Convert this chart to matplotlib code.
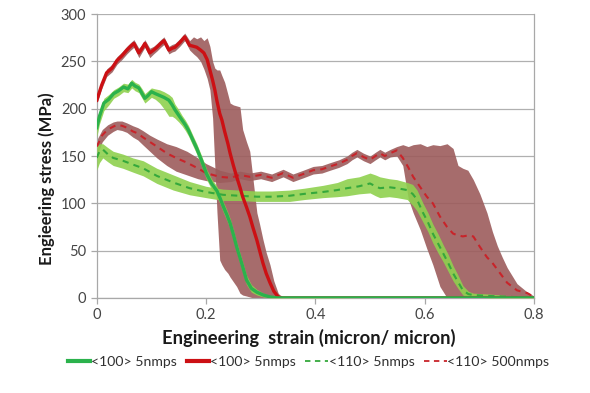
import matplotlib
matplotlib.use("Agg")
import matplotlib.pyplot as plt
from matplotlib.lines import Line2D

plt.rcParams['font.family'] = ['Lato', 'DejaVu Sans']

# <100> 5nmps (green solid): strain, stress, band low, band high
g100_x = [0, 0.005, 0.013, 0.022, 0.031, 0.04, 0.049, 0.057, 0.064, 0.07, 0.077, 0.083, 0.088, 0.094,
          0.1, 0.107, 0.115, 0.123, 0.132, 0.138, 0.143, 0.15, 0.156, 0.162, 0.168, 0.175, 0.183, 0.192,
          0.201, 0.21, 0.22, 0.226, 0.232, 0.238, 0.244, 0.25, 0.256, 0.265, 0.274, 0.283, 0.293, 0.305,
          0.317, 0.33, 0.5, 0.8]
g100_y = [180, 192, 206, 210, 216, 219, 223, 221, 227, 224, 222, 216, 211, 214,
          218, 216, 214, 212, 209, 204, 199, 193, 188, 183, 177, 168, 158, 145,
          131, 121, 113, 105, 96, 88, 79, 67, 54, 37, 19, 10, 6, 3,
          1, 0, 0, 0]
g100_lo = [170, 184, 198, 204, 211, 214, 218, 217, 222, 219, 217, 211, 206, 209,
           212, 210, 206, 200, 192, 192, 190, 186, 182, 177, 171, 162, 152, 139,
           125, 115, 107, 99, 90, 82, 73, 61, 48, 31, 14, 6, 3, 1,
           0, 0, 0, 0]
g100_hi = [190, 198, 211, 215, 220, 223, 227, 226, 231, 228, 226, 221, 216, 219,
           222, 221, 220, 218, 215, 212, 205, 199, 193, 188, 182, 173, 163, 150,
           136, 126, 118, 110, 101, 93, 84, 72, 59, 42, 24, 14, 9, 5,
           2, 1, 0, 0]

# <100> 5nmps (red solid)
r100_x = [0, 0.009, 0.018, 0.028, 0.037, 0.046, 0.055, 0.062, 0.068, 0.077, 0.083, 0.088, 0.097, 0.104,
          0.11, 0.117, 0.123, 0.132, 0.138, 0.143, 0.152, 0.161, 0.17, 0.177, 0.183, 0.19, 0.196, 0.202,
          0.207, 0.212, 0.216, 0.22, 0.225, 0.229, 0.234, 0.24, 0.244, 0.25, 0.256, 0.262, 0.267, 0.274,
          0.28, 0.286, 0.293, 0.298, 0.304, 0.31, 0.317, 0.324, 0.332, 0.34, 0.8]
r100_y = [209, 225, 238, 243, 251, 256, 262, 266, 269, 259, 264, 269, 259, 262,
          265, 269, 272, 262, 264, 265, 270, 276, 267, 266, 265, 262, 259, 252,
          241, 230, 220, 208, 195, 188, 176, 163, 153, 140, 128, 117, 107, 96,
          86, 74, 61, 50, 37, 26, 16, 7, 1, 0, 0]
r100_lo = [205, 221, 234, 239, 247, 252, 258, 262, 265, 254, 260, 265, 254, 258,
           261, 265, 268, 258, 260, 261, 266, 272, 262, 258, 255, 250, 242, 232,
           220, 190, 140, 90, 40, 35, 30, 26, 22, 17, 12, 5, 3, 2,
           1, 0, 0, 0, 0, 0, 0, 0, 0, 0, 0]
r100_hi = [213, 229, 242, 247, 255, 260, 266, 270, 273, 264, 268, 273, 264, 266,
           269, 273, 276, 266, 268, 269, 274, 280, 272, 276, 274, 276, 272, 275,
           266, 250, 243, 241, 241, 235, 228, 215, 206, 204, 203, 202, 178, 165,
           155, 125, 90, 78, 62, 48, 35, 18, 5, 0, 0]

# <110> 5nmps (green dashed)
g110_x = [0, 0.005, 0.011, 0.02, 0.03, 0.048, 0.066, 0.085, 0.11, 0.14, 0.17, 0.2, 0.231, 0.26,
          0.293, 0.32, 0.353, 0.38, 0.414, 0.44, 0.458, 0.48, 0.5, 0.51, 0.518, 0.535, 0.549, 0.568,
          0.578, 0.586, 0.597, 0.606, 0.615, 0.625, 0.634, 0.643, 0.652, 0.661, 0.67, 0.68, 0.689,
          0.72, 0.76, 0.8]
g110_y = [148, 155, 157, 152, 148, 145, 141, 137, 129, 122, 116, 112, 109, 108,
          107, 107, 108, 110, 112, 114, 116, 118, 121, 118, 116, 117, 116, 114,
          110, 104, 90, 80, 68, 57, 47, 37, 26, 17, 8, 4, 3,
          2, 1, 0]
g110_lo = [135, 143, 148, 144, 140, 137, 133, 129, 121, 114, 109, 106, 103, 103,
           102, 102, 102, 104, 106, 107, 108, 110, 111, 108, 106, 107, 106, 104,
           98, 92, 80, 70, 58, 47, 38, 28, 18, 10, 3, 1, 1,
           0, 0, 0]
g110_hi = [160, 163, 163, 159, 155, 152, 148, 145, 137, 130, 123, 118, 115, 114,
           113, 113, 114, 116, 119, 122, 126, 128, 132, 130, 128, 126, 125, 122,
           120, 114, 100, 90, 78, 67, 56, 46, 34, 24, 13, 7, 5,
           4, 2, 1]

# <110> 500nmps (red dashed)
r110_x = [0, 0.01, 0.02, 0.03, 0.037, 0.046, 0.055, 0.066, 0.075, 0.084, 0.097, 0.11, 0.128, 0.145,
          0.165, 0.185, 0.2, 0.225, 0.245, 0.262, 0.28, 0.3, 0.32, 0.341, 0.359, 0.378, 0.396, 0.412,
          0.427, 0.443, 0.458, 0.467, 0.476, 0.488, 0.5, 0.51, 0.518, 0.527, 0.537, 0.549, 0.56, 0.57,
          0.579, 0.592, 0.604, 0.615, 0.628, 0.641, 0.652, 0.661, 0.67, 0.679, 0.689, 0.701, 0.714,
          0.724, 0.733, 0.742, 0.751, 0.769, 0.788, 0.8]
r110_y = [160, 172, 178, 181, 183, 182, 180, 176, 174, 170, 165, 160, 153, 148,
          143, 137, 132, 128, 127, 130, 128, 130, 127, 132, 127, 131, 135, 136,
          139, 142, 146, 150, 153, 149, 146, 150, 153, 150, 153, 156, 148, 138,
          128, 117, 107, 100, 86, 75, 68, 66, 65, 66, 65, 54, 43,
          37, 30, 23, 16, 8, 5, 1]
r110_lo = [150, 165, 172, 176, 178, 177, 175, 170, 167, 162, 155, 148, 140, 134,
           130, 126, 124, 122, 123, 126, 124, 126, 123, 128, 123, 127, 131, 132,
           135, 138, 142, 146, 149, 145, 142, 146, 149, 146, 149, 150, 140, 105,
           90, 72, 52, 35, 12, 0, 0, 0, 0, 0, 0, 0, 0,
           0, 0, 0, 0, 0, 0, 0]
r110_hi = [167, 178, 183, 186, 187, 187, 185, 182, 180, 177, 172, 168, 163, 160,
           155, 148, 142, 135, 132, 134, 132, 134, 131, 136, 131, 135, 139, 140,
           143, 146, 150, 154, 157, 153, 150, 154, 157, 154, 157, 160, 162, 160,
           162, 163, 160, 162, 161, 163, 158, 140, 137, 135, 125, 110, 90,
           70, 55, 43, 32, 15, 6, 2]

labels = ['<100> 5nmps', '<100> 5nmps', '<110> 5nmps', '<110> 500nmps']

green = '#2bb24c'
lightgreen = '#8fd14f'
red = '#cc1014'
brown = '#9c5c5c'

fig = plt.figure(figsize=(5.9, 3.93), dpi=100)
ax = fig.add_axes([0.164, 0.242, 0.741, 0.722])

# bands
ax.fill_between(r110_x, r110_lo, r110_hi, color=brown, alpha=0.9, lw=0, zorder=2)
ax.fill_between(r100_x, r100_lo, r100_hi, color=brown, alpha=0.9, lw=0, zorder=2)
ax.fill_between(g110_x, g110_lo, g110_hi, color=lightgreen, alpha=0.9, lw=0, zorder=3)
ax.fill_between(g100_x, g100_lo, g100_hi, color=lightgreen, alpha=0.9, lw=0, zorder=3)

# mean curves
ax.plot(r110_x, r110_y, color='#c8242a', lw=1.5, ls=(0, (3, 2.5)), zorder=5)
ax.plot(g110_x, g110_y, color='#35a83c', lw=1.5, ls=(0, (3, 2.5)), zorder=6)
ax.plot(r100_x, r100_y, color=red, lw=2.4, zorder=7)
ax.plot(g100_x, g100_y, color=green, lw=2.4, zorder=8)

ax.set_xlim(0, 0.8)
ax.set_ylim(0, 300)
ax.set_xticks([0, 0.2, 0.4, 0.6, 0.8])
ax.set_xticklabels(['0', '0.2', '0.4', '0.6', '0.8'])
ax.set_yticks([0, 50, 100, 150, 200, 250, 300])
ax.grid(axis='y', color='#b0b0b0', lw=0.9, zorder=0)
ax.set_axisbelow(True)
for s in ax.spines.values():
    s.set_color('#a8a8a8')
    s.set_linewidth(0.9)
ax.spines['top'].set_visible(False)
ax.tick_params(colors='#a8a8a8', labelcolor='#454545', labelsize=10.5, length=4, width=0.9)

xl = ax.set_xlabel('Engineering  strain (micron/ micron)', fontsize=13, fontweight='bold',
                   color='#1a1a1a')
ax.xaxis.set_label_coords(0.484, -0.108)
ax.set_ylabel('Engieering stress (MPa)', fontsize=12, fontweight='bold',
              color='#1a1a1a')
ax.yaxis.set_label_coords(-0.096, 0.42)

handles = [Line2D([], [], color=green, lw=3),
           Line2D([], [], color=red, lw=3),
           Line2D([], [], color='#35a83c', lw=1.3, ls=(0, (3, 2.5))),
           Line2D([], [], color='#c8242a', lw=1.3, ls=(0, (3, 2.5)))]


def make_legend(fs):
    return fig.legend(handles, labels, loc='center', bbox_to_anchor=(0.523, 0.079), ncol=4,
                      frameon=False, fontsize=fs, handlelength=1.6, handletextpad=0.05,
                      columnspacing=0.7, labelcolor='#303030', borderpad=0)


leg = make_legend(10)

# fit the x label and legend widths to the reference (293 px and 481 px)
fig.canvas.draw()
r = fig.canvas.get_renderer()
w = xl.get_window_extent(r).width
xl.set_fontsize(13 * 293.0 / w)
w = leg.get_window_extent(r).width
leg.remove()
leg = make_legend(10 * 481.0 / w)

fig.savefig('out.png', dpi=100)
